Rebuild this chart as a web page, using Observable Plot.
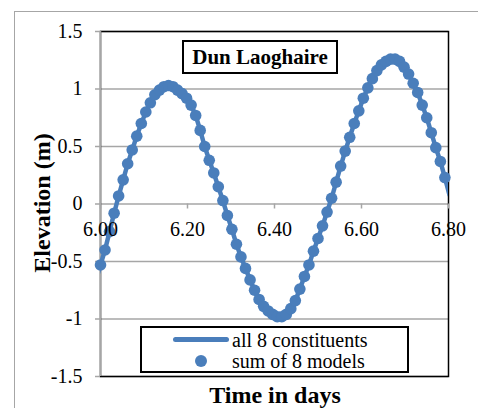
<!DOCTYPE html>
<html>
<head>
<meta charset="utf-8">
<script src="https://cdn.jsdelivr.net/npm/d3@7"></script>
<script src="https://cdn.jsdelivr.net/npm/@observablehq/plot@0.6"></script>
<style>
  html, body { margin: 0; padding: 0; background: #fff; }
  #wrap { position: relative; width: 478px; height: 408px; overflow: hidden;
          font-family: "Liberation Serif", Tinos, "Times New Roman", Times, "DejaVu Serif", serif; color: #000; }
  #outer { position: absolute; left: 14px; top: 11px; width: 520px; height: 440px;
           border-top: 1px solid #a6a6a6; border-left: 1px solid #a6a6a6; box-sizing: border-box; }
  #chart { position: absolute; left: 0; top: 0; }
  .box { position: absolute; background: #fff; border: 2px solid #000; box-sizing: border-box; }
  #title { left: 182px; top: 40px; width: 156px; height: 34px; font-weight: bold; font-size: 21px;
           text-align: center; line-height: 30px; white-space: nowrap; }
  #legend { left: 140px; top: 326px; width: 269px; height: 47px; font-size: 20px; }
  .lg-row { position: absolute; left: 90px; white-space: nowrap; line-height: 20px; }
  .lg-line { position: absolute; left: 31px; width: 56px; height: 5px; border-radius: 3px; background: #4a7ebb; }
  .lg-dot { position: absolute; width: 12px; height: 12px; border-radius: 50%; background: #4a7ebb; }
  #ytitle { position: absolute; left: 42px; top: 203px; transform: translate(-50%, -50%) rotate(-90deg);
            font-weight: bold; font-size: 24px; line-height: 24px; white-space: nowrap; }
  #xtitle { position: absolute; left: 275px; top: 383px; transform: translateX(-50%);
            font-weight: bold; font-size: 24px; white-space: nowrap; line-height: 24px; }
</style>
</head>
<body>
<div id="wrap">
  <div id="outer"></div>
  <div id="chart"></div>
  <div id="title" class="box">Dun Laoghaire</div>
  <div id="legend" class="box">
    <div class="lg-line" style="top:9px"></div>
    <div class="lg-row" style="top:2px">all 8 constituents</div>
    <div class="lg-dot" style="left:53px; top:27px"></div>
    <div class="lg-row" style="top:23px">sum of 8 models</div>
  </div>
  <div id="ytitle">Elevation (m)</div>
  <div id="xtitle">Time in days</div>
</div>
<script>
// Time (days) at 15-minute steps
const timeDays = [5.9896, 6.0000, 6.0104, 6.0208, 6.0313, 6.0417, 6.0521, 6.0625, 6.0729, 6.0833,
  6.0938, 6.1042, 6.1146, 6.1250, 6.1354, 6.1458, 6.1563, 6.1667, 6.1771, 6.1875,
  6.1979, 6.2083, 6.2188, 6.2292, 6.2396, 6.2500, 6.2604, 6.2708, 6.2813, 6.2917,
  6.3021, 6.3125, 6.3229, 6.3333, 6.3438, 6.3542, 6.3646, 6.3750, 6.3854, 6.3958,
  6.4063, 6.4167, 6.4271, 6.4375, 6.4479, 6.4583, 6.4688, 6.4792, 6.4896, 6.5000,
  6.5104, 6.5208, 6.5313, 6.5417, 6.5521, 6.5625, 6.5729, 6.5833, 6.5938, 6.6042,
  6.6146, 6.6250, 6.6354, 6.6458, 6.6563, 6.6667, 6.6771, 6.6875, 6.6979, 6.7083,
  6.7188, 6.7292, 6.7396, 6.7500, 6.7604, 6.7708, 6.7813, 6.7917, 6.8021];
// Elevation (m)
const elevation = [-0.66, -0.53, -0.40, -0.24, -0.08, 0.07, 0.21, 0.35, 0.47, 0.59,
  0.70, 0.80, 0.88, 0.95, 0.99, 1.02, 1.03, 1.02, 0.99, 0.96,
  0.92, 0.86, 0.77, 0.64, 0.50, 0.38, 0.27, 0.15, 0.03, -0.10,
  -0.22, -0.35, -0.46, -0.56, -0.66, -0.75, -0.83, -0.89, -0.93, -0.96,
  -0.98, -0.98, -0.96, -0.91, -0.84, -0.74, -0.63, -0.53, -0.41, -0.30,
  -0.19, -0.07, 0.05, 0.19, 0.33, 0.46, 0.58, 0.70, 0.81, 0.92,
  1.01, 1.09, 1.16, 1.21, 1.24, 1.26, 1.26, 1.24, 1.19, 1.13,
  1.05, 0.97, 0.86, 0.75, 0.62, 0.49, 0.37, 0.23, 0.08];
const xTicks = [6.0, 6.2, 6.4, 6.6, 6.8];
const yTicks = [-1.5, -1, -0.5, 0, 0.5, 1, 1.5];
const seriesNames = ["all 8 constituents", "sum of 8 models"];

const blue = "#4a7ebb";
const grid = "#a6a6a6";
const data = timeDays.map((t, i) => ({t, e: elevation[i]}));
const dotData = data.filter(d => d.t >= 6.0 && d.t <= 6.8);

const chart = Plot.plot({
  width: 478,
  height: 408,
  marginLeft: 100,
  marginRight: 30,
  marginTop: 31,
  marginBottom: 32,
  x: {domain: [6.0, 6.8], axis: null},
  y: {domain: [-1.5, 1.5], axis: null},
  style: {background: "transparent", fontFamily: "'Liberation Serif', Tinos, 'Times New Roman', Times, 'DejaVu Serif', serif", fontSize: "20px", color: "#000"},
  marks: [
    Plot.ruleY(yTicks, {y: d => d, stroke: grid, strokeWidth: 1.5}),
    Plot.frame({stroke: "#000", strokeWidth: 1.5}),
    Plot.ruleX([6.0], {x: d => d, stroke: grid, strokeWidth: 1.5}),
    Plot.ruleY(yTicks, {y: d => d, x1: 6.0, x2: 6.0, insetLeft: -5, stroke: grid, strokeWidth: 1.5}),
    Plot.text(yTicks, {y: d => d, x: 6.0, dx: -18, textAnchor: "end", text: d => String(d), fontSize: 20, fill: "#000"}),
    Plot.ruleX(xTicks, {x: d => d, y1: 0, y2: 0, insetBottom: -5, stroke: grid, strokeWidth: 1.5}),
    Plot.line(data, {x: "t", y: "e", stroke: blue, strokeWidth: 4.5, clip: true}),
    Plot.dot(dotData, {x: "t", y: "e", r: 5.8, fill: blue}),
    Plot.text(xTicks, {x: d => d, y: 0, dy: 26, text: d => d3.format(".2f")(d), fontSize: 20, fill: "#000"})
  ]
});
document.getElementById("chart").appendChild(chart);
</script>
</body>
</html>
